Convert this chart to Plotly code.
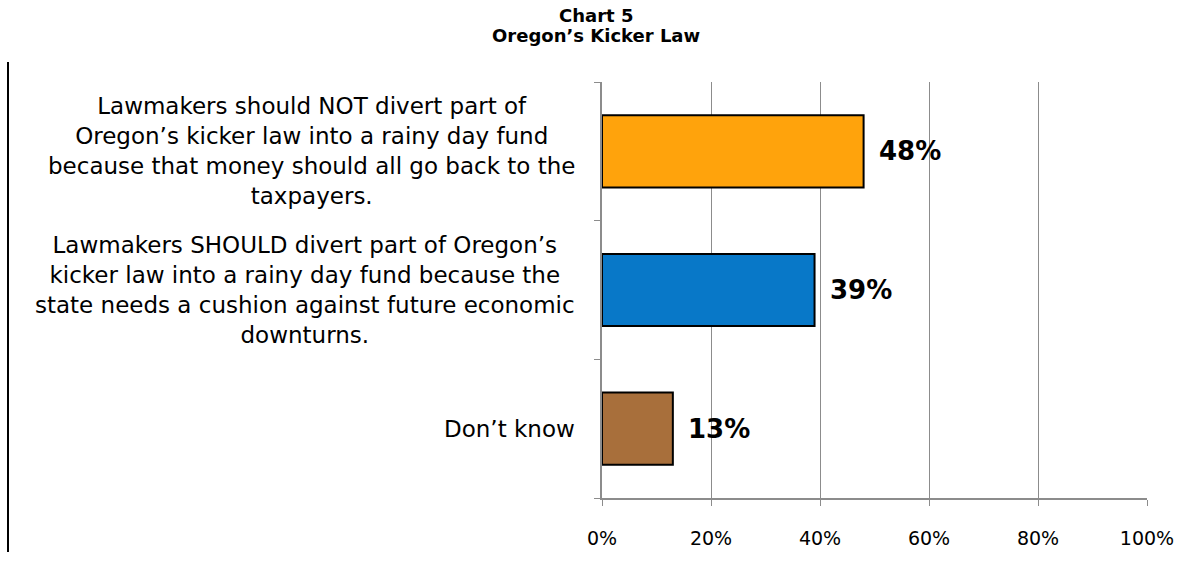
import plotly.graph_objects as go

categories = [
    "Don\u2019t know",
    "Lawmakers SHOULD divert part of Oregon\u2019s<br>kicker law into a rainy day fund because the<br>state needs a cushion against future economic<br>downturns.",
    "Lawmakers should NOT divert part of<br>Oregon\u2019s kicker law into a rainy day fund<br>because that money should all go back to the<br>taxpayers.",
]
values = [13, 39, 48]
colors = ["#A86F3B", "#0878C8", "#FFA30C"]
x_ticks = [0, 20, 40, 60, 80, 100]
x_tick_labels = ["0%", "20%", "40%", "60%", "80%", "100%"]
title_lines = ["Chart 5", "Oregon\u2019s Kicker Law"]

W, H = 1193, 563
L, R, T, B = 602, 1147, 82, 498
FONT = "DejaVu Sans, Verdana, sans-serif"

pw = R - L
ph = B - T
def px_to_paper_x(px):
    return (px - L) / pw
def px_to_paper_y(py):
    return (B - py) / ph

ypos = list(range(len(categories)))

fig = go.Figure()
fig.add_trace(go.Bar(
    x=values, y=ypos, orientation="h",
    marker=dict(color=colors, line=dict(color="#000000", width=2)),
    width=0.52, hoverinfo="skip",
))

annotations = []
for yi, (cat, v) in enumerate(zip(categories, values)):
    annotations.append(dict(
        x=px_to_paper_x(577), xref="paper", y=yi, yref="y", text=cat, showarrow=False,
        xanchor="right", yanchor="middle", align="center",
        font=dict(family=FONT, size=23, color="#000000"),
    ))
    annotations.append(dict(
        x=v, xref="x", y=yi, yref="y", text=f"<b>{v}%</b>", showarrow=False,
        xanchor="left", yanchor="middle", xshift=13,
        font=dict(family=FONT, size=26, color="#000000"),
    ))
for line, cy in zip(title_lines, [15, 36]):
    annotations.append(dict(
        x=px_to_paper_x(596), xref="paper", y=px_to_paper_y(cy), yref="paper",
        text=f"<b>{line}</b>", showarrow=False,
        xanchor="center", yanchor="middle", align="center",
        font=dict(family=FONT, size=18, color="#000000"),
    ))

fig.update_layout(
    width=W, height=H,
    margin=dict(l=L, r=W - R, t=T, b=H - B, pad=0),
    paper_bgcolor="white", plot_bgcolor="white",
    showlegend=False,
    annotations=annotations,
    shapes=[dict(type="line", xref="paper", yref="paper",
                 x0=px_to_paper_x(8), x1=px_to_paper_x(8),
                 y0=px_to_paper_y(62), y1=px_to_paper_y(552),
                 line=dict(color="#000000", width=2))],
    xaxis=dict(
        range=[0, 100], tickvals=x_ticks, ticktext=x_tick_labels,
        showgrid=True, gridcolor="#8C8C8C", gridwidth=1,
        showline=True, linecolor="#8C8C8C", linewidth=1.5,
        ticks="outside", ticklen=6, tickcolor="#8C8C8C",
        ticklabelstandoff=16,
        tickfont=dict(family=FONT, size=19, color="#000000"),
        zeroline=False, fixedrange=True,
    ),
    yaxis=dict(
        range=[-0.5, 2.5], tickvals=[-0.5, 0.5, 1.5, 2.5], ticktext=["", "", "", ""],
        showgrid=False, showline=True, linecolor="#8C8C8C", linewidth=1.5,
        ticks="outside", ticklen=6, tickcolor="#8C8C8C",
        zeroline=False, fixedrange=True,
    ),
)

fig.write_html("out.html")
